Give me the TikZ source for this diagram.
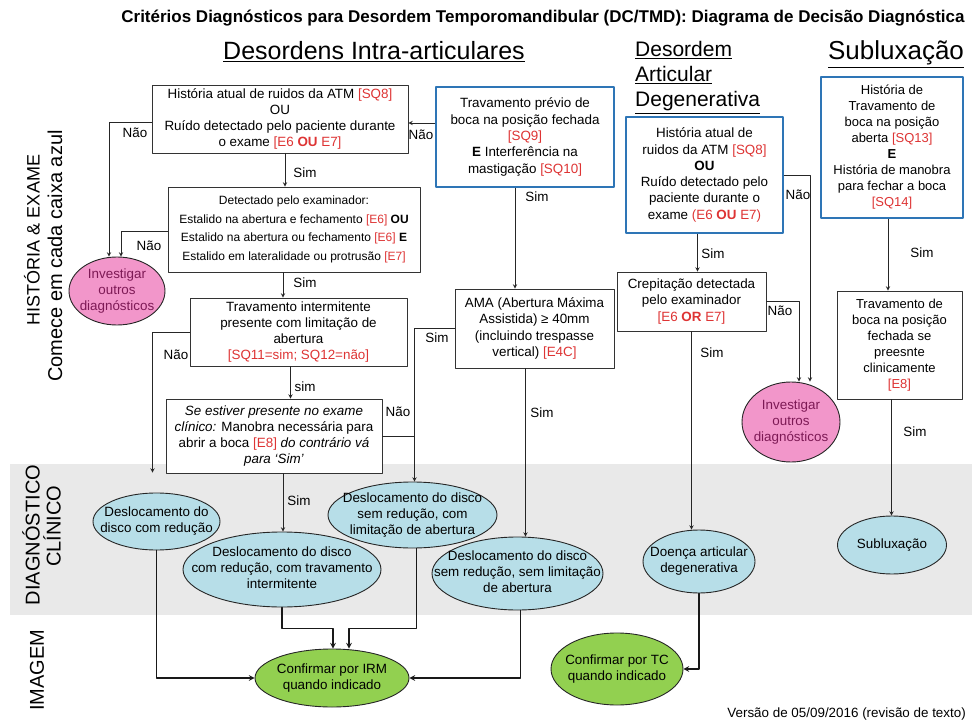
\documentclass[tikz,border=0pt]{standalone}
\usepackage{fontspec}
\setmainfont{Liberation Sans}
\usetikzlibrary{shapes.geometric}
\definecolor{boxblue}{RGB}{46,117,182}
\definecolor{ellcyan}{RGB}{183,222,232}
\definecolor{ellpink}{RGB}{242,150,202}
\definecolor{ellgreen}{RGB}{146,208,80}
\definecolor{bandgray}{RGB}{233,233,233}
\definecolor{codered}{RGB}{222,52,52}
\definecolor{invtext}{RGB}{125,25,85}
\newcommand{\rc}[1]{\textcolor{codered}{#1}}
\newcommand{\ctext}[1]{\smash{\makebox[0pt]{\raisebox{-3.5pt}{\begin{tabular}{@{}c@{}}#1\end{tabular}}}}}
\tikzset{
  blackbox/.style={draw=black!80, line width=0.9pt, fill=white, align=center, inner sep=2pt, font=\fontsize{13.4}{16.3}\selectfont},
  bluebox/.style={draw=boxblue, line width=2.6pt, fill=white, align=center, inner sep=2pt, font=\fontsize{13.4}{16.3}\selectfont},
  ell/.style={ellipse, draw=black!85, line width=0.9pt, inner sep=0pt, font=\fontsize{13.4}{16}\selectfont},
  lbl/.style={font=\fontsize{13.4}{15}\selectfont, inner sep=0pt},
  side/.style={rotate=90, font=\fontsize{20}{22}\selectfont, inner sep=0pt},
  conn/.style={line width=0.9pt, draw=black!85},
  thickconn/.style={line width=1.5pt, draw=black!90}
}
\begin{document}
\begin{tikzpicture}[x=1pt, y=-1pt, >=stealth, line join=round, line cap=round]
\useasboundingbox (0,0) rectangle (972,722);
% faixa do diagnostico clinico
\fill[bandgray] (10,464) rectangle (972,615);

% titulos
\node[font=\bfseries\fontsize{17}{19}\selectfont] (titulo) at (543,18) {Critérios Diagnósticos para Desordem Temporomandibular (DC/TMD): Diagrama de Decisão Diagnóstica};
\node[anchor=base, font=\fontsize{25}{27}\selectfont] (hintra) at (374,60) {\underline{Desordens Intra-articulares}};
\node[anchor=base west, align=left, font=\fontsize{21}{25}\selectfont, inner sep=0pt] (hdeg) at (635,107) {\underline{Desordem}\\ \underline{Articular}\\ \underline{Degenerativa}};
\node[anchor=base, font=\fontsize{26}{28}\selectfont] (hsub) at (896,60) {\underline{Subluxação}};

% textos laterais
\node[side, font=\fontsize{18}{20}\selectfont] (hist) at (32,240) {HISTÓRIA \& EXAME};
\node[side] (comece) at (55,256) {Comece em cada caixa azul};
\node[side] (diag) at (31,535) {DIAGNÓSTICO};
\node[side] (clin) at (52,526) {CLÍNICO};
\node[side] (imagem) at (37,670) {IMAGEM};

% caixas de historia e exame
\node[blackbox, minimum width=256pt, minimum height=68pt] (b1) at (280,119)
  {História atual de ruidos da ATM \rc{[SQ8]}\\ OU\\ Ruído detectado pelo paciente durante\\ o exame \rc{[E6 \textbf{OU} E7]}};
\node[bluebox, minimum width=178pt, minimum height=100pt] (b5) at (525,137)
  {Travamento prévio de\\ boca na posição fechada\\ \rc{[SQ9]}\\ \textbf{E} Interferência na\\ mastigação \rc{[SQ10]}};
\node[blackbox, minimum width=252pt, minimum height=85pt, font=\fontsize{12}{18.5}\selectfont] (b2) at (294,229.5)
  {Detectado pelo examinador:\\ Estalido na abertura e fechamento \rc{[E6]} \textbf{OU}\\ Estalido na abertura ou fechamento \rc{[E6]} \textbf{E}\\ Estalido em lateralidade ou protrusão \rc{[E7]}};
\node[blackbox, minimum width=217pt, minimum height=68pt] (b3) at (298.5,332)
  {Travamento intermitente\\ presente com limitação de\\ abertura\\ \rc{[SQ11=sim; SQ12=não]}};
\node[blackbox, minimum width=216pt, minimum height=74pt] (b4) at (274,436)
  {\textit{Se estiver presente no exame}\\ \textit{clínico:} Manobra necessária para\\ abrir a boca \rc{[E8]} \textit{do contrário vá}\\ \textit{para ‘Sim’}};
\node[blackbox, minimum width=159pt, minimum height=79pt] (ama) at (534.5,328.5)
  {AMA (Abertura Máxima\\ Assistida) ≥ 40mm\\ (incluindo trespasse\\ vertical) \rc{[E4C]}};
\node[bluebox, minimum width=157pt, minimum height=116pt] (b6) at (704.5,175)
  {História atual de\\ ruidos da ATM \rc{[SQ8]}\\ \textbf{OU}\\ Ruído detectado pelo\\ paciente durante o\\ exame \rc{(E6 \textbf{OU} E7)}};
\node[blackbox, minimum width=149pt, minimum height=59pt] (b7) at (691.5,301.5)
  {Crepitação detectada\\ pelo examinador\\ \rc{[E6 \textbf{OR} E7]}};
\node[bluebox, minimum width=142pt, minimum height=141pt, font=\fontsize{13}{16}\selectfont] (b8) at (892,147.5)
  {História de\\ Travamento de\\ boca na posição\\ aberta \rc{[SQ13]}\\ \textbf{E}\\ História de manobra\\ para fechar a boca\\ \rc{[SQ14]}};
\node[blackbox, minimum width=125pt, minimum height=108pt, font=\fontsize{13}{16}\selectfont] (b9) at (899.5,345)
  {Travamento de\\ boca na posição\\ fechada se\\ preesnte\\ clinicamente\\ \rc{[E8]}};

% elipses
\node[ell, fill=ellpink, minimum width=96pt, minimum height=68pt, text=invtext] (inv1) at (117,291)
  {\ctext{Investigar\\ outros\\ diagnósticos}};
\node[ell, fill=ellpink, minimum width=98pt, minimum height=80pt, text=invtext] (inv2) at (791,422)
  {\ctext{Investigar\\ outros\\ diagnósticos}};
\node[ell, fill=ellcyan, minimum width=127pt, minimum height=57pt] (d1) at (156.5,521.5)
  {\ctext{Deslocamento do\\ disco com redução}};
\node[ell, fill=ellcyan, minimum width=198pt, minimum height=75pt] (d2) at (282,569.5)
  {\ctext{Deslocamento do disco\\ com redução, com travamento\\ intermitente}};
\node[ell, fill=ellcyan, minimum width=169pt, minimum height=66pt] (d3) at (412.5,515)
  {\ctext{Deslocamento do disco\\ sem redução, com\\ limitação de abertura}};
\node[ell, fill=ellcyan, minimum width=171pt, minimum height=73pt] (d5) at (517.5,573.5)
  {\ctext{Deslocamento do disco\\ sem redução, sem limitação\\ de abertura}};
\node[ell, fill=ellcyan, minimum width=112pt, minimum height=63pt] (d6) at (699,561.5)
  {\ctext{Doença articular\\ degenerativa}};
\node[ell, fill=ellcyan, minimum width=109pt, minimum height=58pt] (sub) at (892,545)
  {\ctext{Subluxação}};
\node[ell, fill=ellgreen, minimum width=154pt, minimum height=58pt] (irm) at (332,678)
  {\ctext{Confirmar por IRM\\ quando indicado}};
\node[ell, fill=ellgreen, minimum width=132pt, minimum height=72pt] (tc) at (617,669)
  {\ctext{Confirmar por TC\\ quando indicado}};

% ligacoes da coluna intra-articular
\draw[conn,->] ([yshift=-3pt]b1.west) -| ([xshift=-8pt]inv1.north);
\draw[conn,->] ([yshift=-2pt]b2.west) -| ([xshift=4pt]inv1.north);
\draw[conn,->] ([xshift=5pt]b1.south) -- ([xshift=5pt]b1.south |- b2.north);
\draw[conn,->] ([yshift=-4pt]b1.east -| b5.west) -- ([yshift=-4pt]b1.east);
\draw[conn,->] ([xshift=-11pt]b2.south) -- ([xshift=-11pt]b2.south |- b3.north);
\draw[conn,->] (b3.west) -| ([xshift=-4pt,yshift=20pt]d1.north);
\draw[conn,->] ([xshift=-8pt]b3.south) -- ([xshift=-8pt]b3.south |- b4.north);
\draw[conn,->] ([xshift=9pt]b4.south) -- ([xshift=9pt]b4.south |- d2.north);
\draw[conn,->] (ama.west) -| ([xshift=2pt]d3.north);
\draw[conn] (b4.east) -- ([xshift=2pt]d3.north |- b4.east);
\draw[conn,->] ([xshift=-10pt]b5.south) -- ([xshift=-10pt]b5.south |- ama.north);
\draw[conn,->] ([xshift=-9pt]ama.south) -- ([xshift=-9pt]ama.south |- d5.north);
% ligacoes da desordem degenerativa e subluxacao
\draw[conn,->] (b6.east) -| ([xshift=19pt]inv2.north);
\draw[conn,->] (b7.east) -| ([xshift=8pt]inv2.north);
\draw[conn,->] ([xshift=-7pt]b6.south) -- ([xshift=-7pt]b6.south |- b7.north);
\draw[conn,->] (b7.south) -- (b7.south |- d6.north);
\draw[conn,->] ([xshift=-4pt]b8.south) -- ([xshift=-4pt]b8.south |- b9.north);
\draw[conn,->] ([xshift=-8pt]b9.south) -- ([xshift=-8pt]b9.south |- sub.north);
% imagem
\draw[thickconn,->] (d1.south) |- (irm.west);
\draw[thickconn,->] (d2.south) -- ++(0,21) -| ([xshift=1pt]irm.north);
\draw[thickconn,->] ([xshift=4pt]d3.south) -- ++(0,80) -| ([xshift=17pt]irm.north);
\draw[thickconn,->] ([xshift=3pt]d5.south) |- (irm.east);
\draw[thickconn,->] (d6.south) |- (tc.east);

% rotulos Sim / Nao
\node[lbl] (nao1) at (135,133) {Não};
\node[lbl] (sim1) at (305,173) {Sim};
\node[lbl] (nao2) at (149,246) {Não};
\node[lbl] (nao3) at (421,135) {Não};
\node[lbl] (sim2) at (305,283) {Sim};
\node[lbl] (nao4) at (176,355) {Não};
\node[lbl] (sim3) at (305,387) {sim};
\node[lbl] (nao5) at (398,412) {Não};
\node[lbl] (sim4) at (437,338) {Sim};
\node[lbl] (sim5) at (537,197) {Sim};
\node[lbl] (sim6) at (542,413) {Sim};
\node[lbl] (sim7) at (299,501) {Sim};
\node[lbl] (nao6) at (798,195) {Não};
\node[lbl] (sim8) at (713,254) {Sim};
\node[lbl] (nao7) at (780,311) {Não};
\node[lbl] (sim9) at (712,353) {Sim};
\node[lbl] (sim10) at (922,253) {Sim};
\node[lbl] (sim11) at (915,432) {Sim};

\node[anchor=base east, font=\fontsize{13.4}{15}\selectfont, inner sep=0pt] (versao) at (966,717) {Versão de 05/09/2016 (revisão de texto)};
\end{tikzpicture}
\end{document}
